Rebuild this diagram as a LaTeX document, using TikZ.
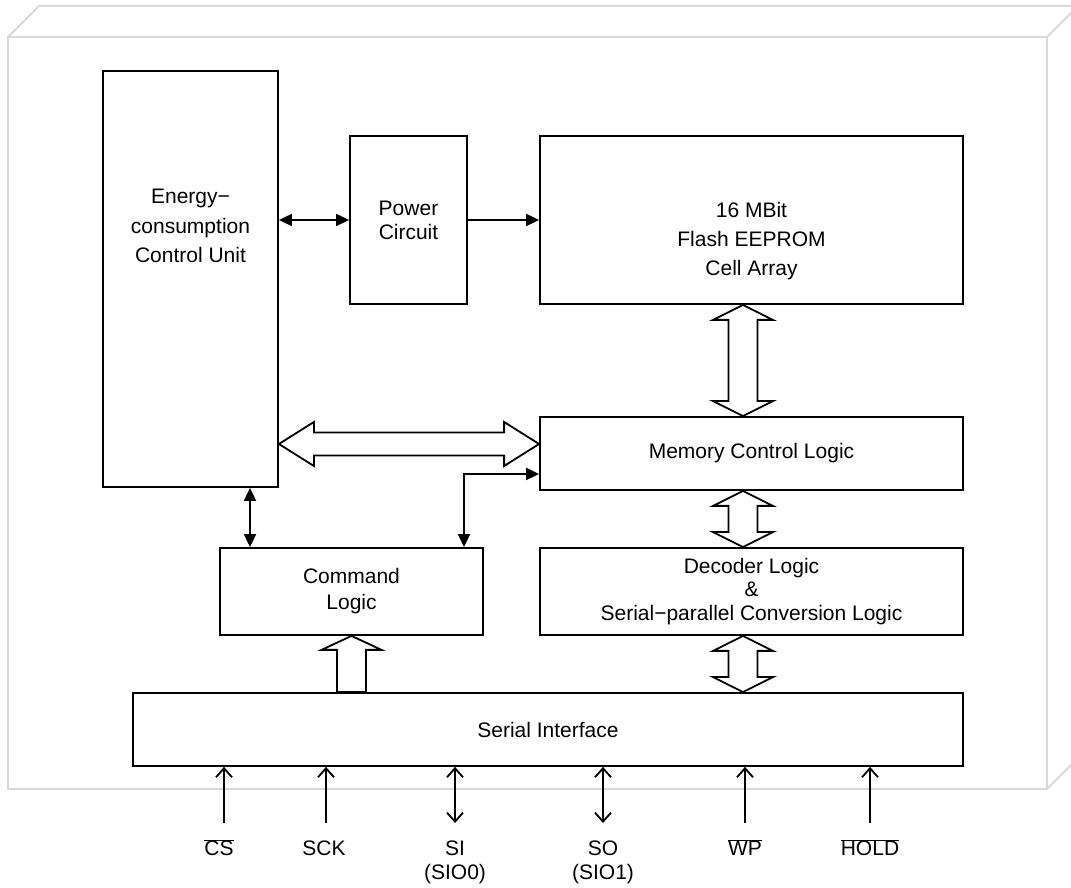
\documentclass[tikz,border=0pt]{standalone}
\usepackage{fontspec}
\setmainfont{Liberation Sans}
\usetikzlibrary{arrows.meta, calc}

% hollow bus arrows
\newcommand{\busvert}[2]{% #1 upper tip, #2 lower tip
  \draw[bus] (#1) -- ++(-30,-15) -- ++(15.5,0) -- ($(#2)+(-14.5,15)$) -- ++(-15.5,0) -- (#2)
    -- ++(30,15) -- ++(-15.5,0) -- ($(#1)+(14.5,-15)$) -- ++(15.5,0) -- cycle;}
\newcommand{\bushoriz}[2]{% #1 left tip, #2 right tip
  \draw[bus] (#1) -- ++(35,22) -- ++(0,-10.5) -- ($(#2)+(-35,11.5)$) -- ++(0,10.5) -- (#2)
    -- ++(-35,-22) -- ++(0,10.5) -- ($(#1)+(35,-11.5)$) -- ++(0,-10.5) -- cycle;}
\newcommand{\busup}[2]{% #1 tip, #2 foot
  \draw[bus] (#1) -- ++(30,-14) -- ++(-15.5,0) -- ($(#2)+(14.5,0)$) -- ($(#2)+(-14.5,0)$)
    -- ($(#1)+(-14.5,-14)$) -- ++(-15.5,0) -- cycle;}

\tikzset{
  frame/.style={draw=black!15, line width=2pt},
  blk/.style={draw, line width=1.8pt, inner sep=0pt},
  txt/.style={align=center, inner sep=0pt, font=\fontsize{21}{24}\selectfont},
  sig/.style={line width=1.8pt, >={Triangle[length=13pt,width=12pt]}},
  pin/.style={line width=1.8pt, >={Straight Barb[length=9pt,width=16pt]}},
  bus/.style={line width=1.8pt, line join=miter},
}

\begin{document}
\begin{tikzpicture}[x=1pt, y=1pt]
    \useasboundingbox (0,0) rectangle (1071,888);
    \clip (0,0) rectangle (1071,888);

    % housing
    \draw[frame] (8,851) rectangle (1047,99);
    \draw[frame] (8,851) -- (39,882) -- (1078,882) -- (1047,851);
    \draw[frame] (1078,882) -- (1078,130) -- (1047,99);

    % blocks
    \node[blk, minimum width=175pt, minimum height=416pt] (ecu) at (190.5,609) {};
    \node[txt, font=\fontsize{21}{29.5}\selectfont] (ecutxt) at (190.5,662) {Energy−\\consumption\\Control Unit};
    \node[blk, txt, minimum width=117pt, minimum height=168pt] (pwr) at (408.5,668) {Power\\Circuit};
    \node[blk, minimum width=423pt, minimum height=168pt] (flash) at (751.5,668) {};
    \node[txt, font=\fontsize{21}{29}\selectfont] (flashtxt) at (751.5,647) {16 MBit\\Flash EEPROM\\Cell Array};
    \node[blk, txt, minimum width=423pt, minimum height=73pt] (mcl) at (751.5,434.5) {Memory Control Logic};
    \node[blk, txt, font=\fontsize{21}{26}\selectfont, minimum width=263pt, minimum height=87pt] (cmd) at (351.5,296.5) {Command\\Logic};
    \node[blk, txt, font=\fontsize{21}{23.5}\selectfont, minimum width=423pt, minimum height=87pt] (dec) at (751.5,296.5) {Decoder Logic\\\&\\Serial−parallel Conversion Logic};
    \node[blk, txt, minimum width=830pt, minimum height=73pt] (ser) at (548,158.5) {Serial Interface};

    % signal lines
    \draw[sig, <->] (ecu.east |- pwr.west) -- (pwr.west);
    \draw[sig, ->] (pwr.east) -- (flash.west);
    \coordinate (cl) at ([xshift=59.5pt]ecu.south);
    \draw[sig, <->] (cl) -- (cl |- cmd.north);
    \coordinate (ck) at ([xshift=112.5pt]cmd.north);
    \draw[sig, <->] (ck) |- ([yshift=-20.5pt]mcl.west);

    % buses
    \coordinate (h1) at ([yshift=-165pt]ecu.east);
    \coordinate (h2) at (h1 -| mcl.west);
    \bushoriz{h1}{h2}
    \coordinate (v1) at ([xshift=-8.5pt]flash.south);
    \coordinate (v2) at (v1 |- mcl.north);
    \coordinate (v3) at (v1 |- mcl.south);
    \coordinate (v4) at (v1 |- dec.north);
    \coordinate (v5) at (v1 |- dec.south);
    \coordinate (v6) at (v1 |- ser.north);
    \busvert{v1}{v2}
    \busvert{v3}{v4}
    \busvert{v5}{v6}
    \coordinate (u1) at (cmd.south);
    \coordinate (u2) at (u1 |- ser.north);
    \busup{u1}{u2}

    % pins
    \coordinate (pcs) at (224,65);
    \coordinate (psck) at (326,65);
    \coordinate (psi) at (455,65);
    \coordinate (pso) at (603,65);
    \coordinate (pwp) at (745,65);
    \coordinate (phold) at (870,65);
    \draw[pin, ->] (pcs) -- (pcs |- ser.south);
    \draw[pin, ->] (psck) -- (psck |- ser.south);
    \draw[pin, <->] (psi) -- (psi |- ser.south);
    \draw[pin, <->] (pso) -- (pso |- ser.south);
    \draw[pin, ->] (pwp) -- (pwp |- ser.south);
    \draw[pin, ->] (phold) -- (phold |- ser.south);

    \node[txt, anchor=north] (lcs) at (219,49) {\strut$\overline{\mbox{CS}}$};
    \node[txt, anchor=north] (lsck) at (324,49) {\strut SCK};
    \node[txt, anchor=north] (lsi) at (455,49) {\strut SI\\(SIO0)};
    \node[txt, anchor=north] (lso) at (603,49) {\strut SO\\(SIO1)};
    \node[txt, anchor=north] (lwp) at (745,49) {\strut$\overline{\mbox{WP}}$};
    \node[txt, anchor=north] (lhold) at (870,49) {\strut$\overline{\mbox{HOLD}}$};
\end{tikzpicture}
\end{document}
